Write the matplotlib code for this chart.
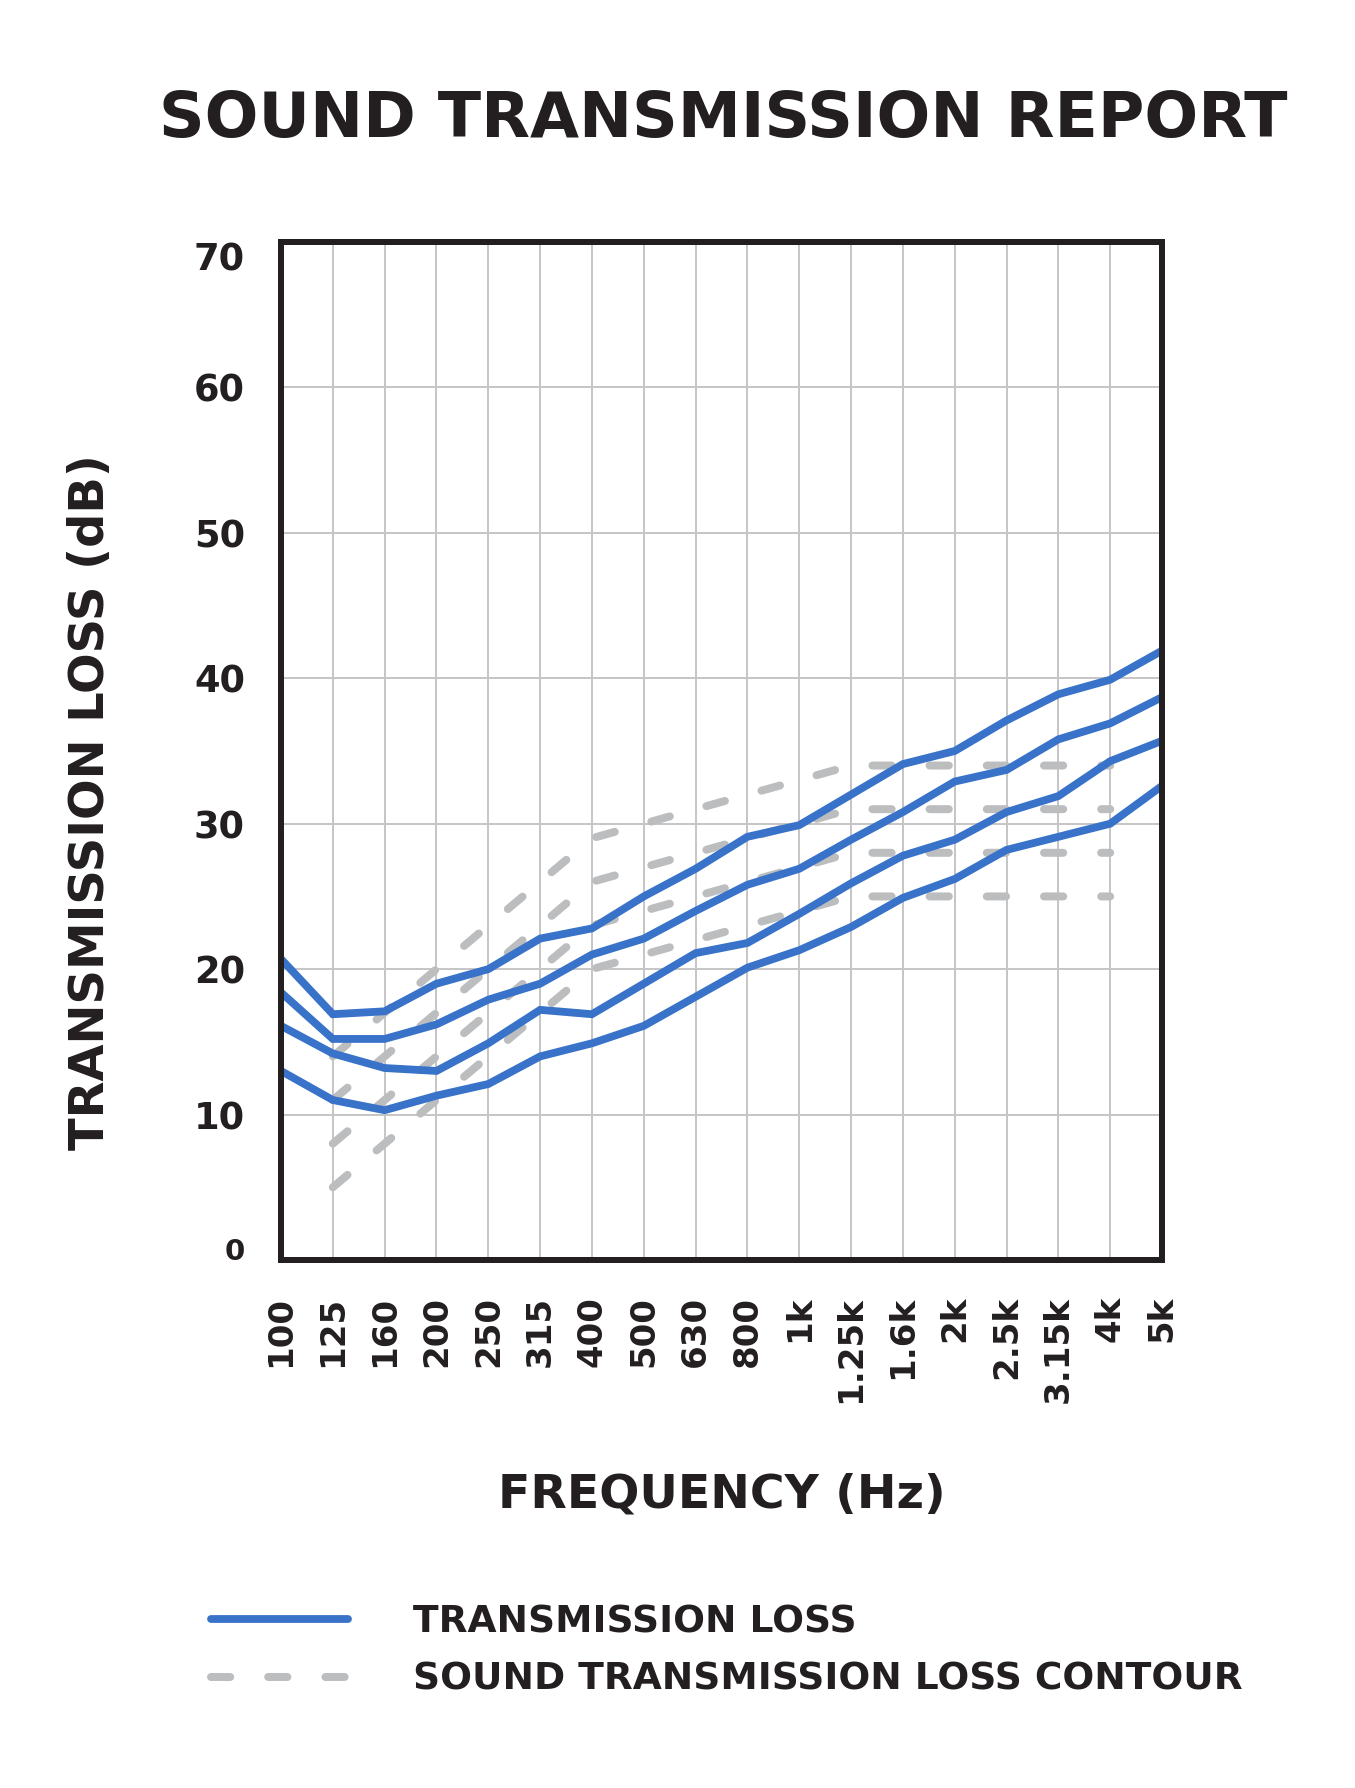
import matplotlib
matplotlib.use("Agg")
import matplotlib.pyplot as plt
from matplotlib.lines import Line2D

# ---------------- data ----------------
freq_labels = ["100", "125", "160", "200", "250", "315", "400", "500", "630", "800",
               "1k", "1.25k", "1.6k", "2k", "2.5k", "3.15k", "4k", "5k"]

tl_1 = [20.7, 16.9, 17.1, 19.0, 20.0, 22.1, 22.8, 25.0, 26.9, 29.1,
        29.9, 32.0, 34.1, 35.0, 37.1, 38.9, 39.9, 41.9]
tl_2 = [18.4, 15.2, 15.2, 16.2, 17.9, 19.0, 21.0, 22.1, 24.0, 25.8,
        26.9, 28.9, 30.8, 32.9, 33.7, 35.8, 36.9, 38.7]
tl_3 = [16.1, 14.2, 13.2, 13.0, 14.9, 17.2, 16.9, 19.0, 21.1, 21.8,
        23.8, 25.9, 27.8, 28.9, 30.8, 31.9, 34.3, 35.7]
tl_4 = [13.0, 11.0, 10.3, 11.3, 12.1, 14.0, 14.9, 16.1, 18.1, 20.1,
        21.3, 22.9, 24.9, 26.2, 28.2, 29.1, 30.0, 32.6]

# STC contours, defined from 125 Hz to 4 kHz
contour_labels = freq_labels[1:17]
stc_30 = [14, 17, 20, 23, 26, 29, 30, 31, 32, 33, 34, 34, 34, 34, 34, 34]
stc_27 = [11, 14, 17, 20, 23, 26, 27, 28, 29, 30, 31, 31, 31, 31, 31, 31]
stc_24 = [8, 11, 14, 17, 20, 23, 24, 25, 26, 27, 28, 28, 28, 28, 28, 28]
stc_21 = [5, 8, 11, 14, 17, 20, 21, 22, 23, 24, 25, 25, 25, 25, 25, 25]

y_ticks = [0, 10, 20, 30, 40, 50, 60, 70]
y_tick_labels = ["0", "10", "20", "30", "40", "50", "60", "70"]

title = "SOUND TRANSMISSION REPORT"
x_title = "FREQUENCY (Hz)"
y_title = "TRANSMISSION LOSS (dB)"
legend_labels = ["TRANSMISSION LOSS", "SOUND TRANSMISSION LOSS CONTOUR"]

# ---------------- style ----------------
W, H = 1355, 1788
DPI = 100
TXT = "#231f20"
BLUE = "#3872c9"
GRAY = "#bcbdbf"
GRID = "#c6c6c6"
FONT = "DejaVu Sans"
PX = 72.0 / DPI  # points per pixel

plt.rcParams["font.family"] = [FONT]

fig = plt.figure(figsize=(W / DPI, H / DPI), dpi=DPI)
fig.patch.set_facecolor("white")

ax_l, ax_r, ax_t, ax_b = 281, 1162, 242, 1260
ax = fig.add_axes([ax_l / W, 1 - ax_b / H, (ax_r - ax_l) / W, (ax_b - ax_t) / H])

x_all = list(range(len(freq_labels)))
x_cont = [freq_labels.index(l) for l in contour_labels]

blue_lw = 7.8 * PX
gray_lw = 8 * PX
dash = (0, (2.4, 4.75))

for series in (stc_30, stc_27, stc_24, stc_21):
    ax.plot(x_cont, series, color=GRAY, lw=gray_lw, linestyle=dash,
            dash_capstyle="round", zorder=2)

for series in (tl_1, tl_2, tl_3, tl_4):
    ax.plot(x_all, series, color=BLUE, lw=blue_lw, solid_joinstyle="miter",
            solid_capstyle="butt", zorder=3)

ax.set_xlim(0, len(freq_labels) - 1)
ax.set_ylim(0, 70)
ax.set_xticks(x_all)
ax.set_xticklabels(freq_labels)
ax.set_yticks(y_ticks)
ax.set_yticklabels(y_tick_labels)

ax.grid(True, color=GRID, lw=2 * PX)
ax.set_axisbelow(True)
for s in ax.spines.values():
    s.set_linewidth(6 * PX)
    s.set_color(TXT)
    s.set_zorder(5)

ax.tick_params(axis="both", length=0, colors=TXT)
ax.tick_params(axis="y", pad=36 * PX, labelsize=26.5)
ax.tick_params(axis="x", pad=36 * PX, labelsize=24.5, labelrotation=90)
for lab in ax.get_yticklabels() + ax.get_xticklabels():
    lab.set_fontweight("bold")
    lab.set_color(TXT)
ylabs = ax.get_yticklabels()
ylabs[-1].set_va("top")
ylabs[0].set_va("baseline")
ylabs[0].set_fontsize(21)

fig.text(723 / W, 1 - 120 / H, title, ha="center", va="center",
         fontsize=45.6, fontweight="bold", color=TXT)
fig.text(721.5 / W, 1 - 1495 / H, x_title, ha="center", va="center",
         fontsize=34, fontweight="bold", color=TXT)
fig.text(91 / W, 1 - 802 / H, y_title, ha="center", va="center", rotation=90,
         fontsize=34.5, fontweight="bold", color=TXT)

handles = [
    Line2D([], [], color=BLUE, lw=blue_lw, solid_capstyle="round"),
    Line2D([], [], color=GRAY, lw=gray_lw, linestyle=dash, dash_capstyle="round"),
]
leg_fs = 27
em = leg_fs / PX
leg = fig.legend(handles, legend_labels, loc="center left",
                 bbox_to_anchor=(211 / W, 1 - 1651 / H),
                 frameon=False, fontsize=leg_fs, handlelength=137 / em,
                 handletextpad=65 / em, labelspacing=0.58, borderpad=0,
                 borderaxespad=0)
for t in leg.get_texts():
    t.set_fontweight("bold")
    t.set_color(TXT)

fig.savefig("out.png", dpi=DPI, facecolor="white")
